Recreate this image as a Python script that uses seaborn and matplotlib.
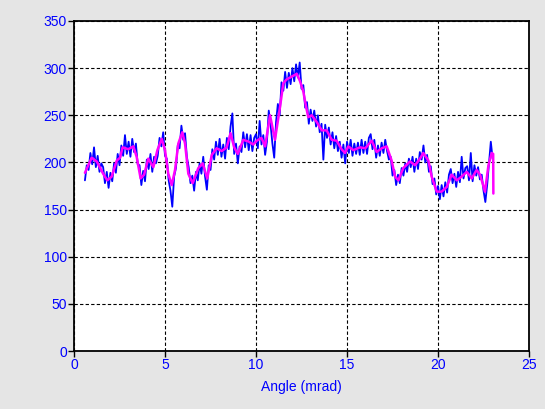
import numpy as np
import matplotlib
matplotlib.use("Agg")
import matplotlib.pyplot as plt
import seaborn as sns

# raw scan, one sample every 0.1 mrad starting at 0.6 mrad
raw_start = 0.6
raw_step = 0.1
raw_counts = [
    181, 197, 192, 210, 198, 216, 195, 207, 190, 199,
    195, 178, 190, 173, 189, 180, 199, 189, 209, 197,
    218, 207, 229, 209, 222, 206, 225, 211, 220, 198,
    197, 176, 191, 180, 203, 193, 209, 190, 206, 199,
    207, 226, 217, 232, 207, 204, 181, 170, 153, 185,
    194, 218, 215, 239, 224, 231, 206, 195, 178, 186,
    170, 190, 181, 199, 188, 206, 185, 171, 197, 192,
    214, 203, 222, 208, 225, 206, 219, 204, 226, 214,
    238, 252, 209, 220, 199, 217, 211, 232, 216, 230,
    213, 229, 212, 226, 230, 215, 244, 219, 229, 208,
    222, 255, 240, 220, 205, 243, 262, 250, 285, 276,
    296, 279, 295, 283, 300, 286, 304, 290, 306, 278,
    282, 258, 264, 241, 256, 244, 255, 238, 250, 232,
    241, 203, 240, 226, 237, 219, 232, 215, 228, 212,
    222, 205, 219, 199, 222, 210, 224, 207, 220, 209,
    221, 208, 224, 210, 222, 209, 226, 230, 214, 224,
    205, 218, 207, 221, 210, 224, 212, 203, 206, 186,
    192, 176, 187, 178, 194, 186, 199, 190, 204, 195,
    206, 190, 204, 193, 211, 203, 218, 200, 208, 190,
    196, 177, 183, 166, 175, 161, 176, 164, 179, 168,
    187, 193, 178, 188, 174, 190, 179, 206, 183, 194,
    196, 181, 210, 180, 197, 186, 195, 182, 187, 170,
    158, 176, 199, 222, 204,
]
raw_angle = raw_start + raw_step * np.arange(len(raw_counts))

# smoothed curve
smooth_angle = [
    0.6, 0.97, 1.25, 1.6, 1.83, 2.07, 2.35, 2.53, 2.67, 2.98, 3.26, 3.44,
    3.66, 3.85, 4.08, 4.36, 4.58, 4.82, 5.0, 5.18, 5.37, 5.55, 5.73, 5.95,
    6.1, 6.28, 6.52, 6.83, 7.07, 7.32, 7.57, 7.84, 8.12, 8.39, 8.6, 8.8,
    9.0, 9.3, 9.6, 9.85, 10.04, 10.3, 10.5, 10.77, 11.04, 11.32, 11.5,
    11.68, 11.96, 12.24, 12.42, 12.6, 12.75, 12.87, 13.06, 13.33, 13.61,
    13.88, 14.16, 14.43, 14.7, 14.89, 15.07, 15.35, 15.71, 16.0, 16.36,
    16.63, 16.9, 17.18, 17.45, 17.64, 17.82, 18.09, 18.46, 18.74, 19.01,
    19.19, 19.47, 19.65, 19.93, 20.2, 20.48, 20.75, 21.03, 21.3, 21.58,
    21.85, 22.12, 22.31, 22.58, 22.77, 22.95, 23.03, 23.04,
]
smooth_counts = [
    189, 205, 201, 188, 181, 185, 202, 205, 216, 214, 217, 206,
    183, 187, 204, 195, 213, 225, 213, 188, 176, 192, 220, 232,
    220, 188, 178, 194, 199, 183, 208, 215, 212, 216, 231, 216,
    209, 224, 222, 219, 223, 226, 217, 250, 224, 259, 284,
    288, 291, 294, 286, 275, 259, 248, 250, 243, 234,
    234, 224, 223, 214, 210, 217, 213, 216, 215, 223,
    211, 215, 217, 202, 185, 181, 194, 201, 197, 204,
    210, 202, 185, 169, 169, 174, 187, 181, 185, 190,
    183, 192, 187, 169, 197, 210, 209, 167,
]

x_ticks = [0, 5, 10, 15, 20, 25]
y_ticks = [0, 50, 100, 150, 200, 250, 300, 350]

sns.set_style("ticks")
plt.rcParams['font.family'] = ['Liberation Sans', 'DejaVu Sans']

fig = plt.figure(figsize=(5.45, 4.09), dpi=100)
fig.patch.set_facecolor("#e5e5e5")
ax = fig.add_axes([0.1358, 0.1418, 0.8349, 0.8069])
ax.set_facecolor("white")

sns.lineplot(x=raw_angle, y=raw_counts, ax=ax, color="#0000ff",
             linewidth=1.3, estimator=None, sort=False)
sns.lineplot(x=smooth_angle, y=smooth_counts, ax=ax, color="#ff00ff",
             linewidth=1.8, estimator=None, sort=False)

ax.set_xlim(0, 25)
ax.set_ylim(0, 350)
ax.set_xticks(x_ticks)
ax.set_yticks(y_ticks)
ax.grid(True, color="black", linestyle=(0, (3, 2)), linewidth=0.8)
ax.set_axisbelow(True)
for s in ax.spines.values():
    s.set_color("black")
    s.set_linewidth(1.3)
ax.tick_params(colors="black", labelcolor="#0000ff", labelsize=10,
               direction="out", length=4, width=1, pad=1)
ax.set_xlabel("Angle (mrad)", color="#0000ff", fontsize=10, labelpad=6)
ax.set_ylabel("")

fig.savefig("out.png", dpi=100, facecolor=fig.get_facecolor())
